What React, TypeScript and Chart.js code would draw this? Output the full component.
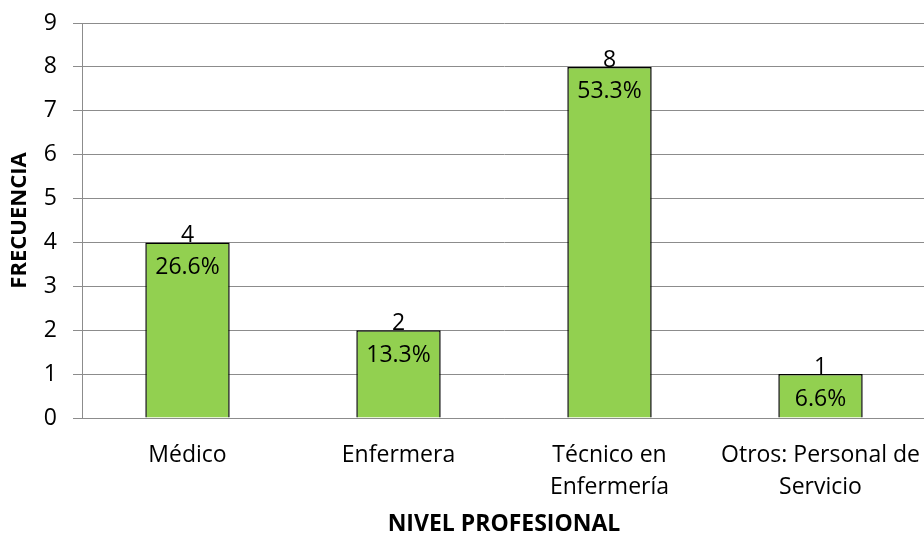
import React, { useEffect, useRef } from "react";
import { Chart, registerables } from "chart.js";

Chart.register(...registerables);

const categories: (string | string[])[] = [
  "Médico",
  "Enfermera",
  ["Técnico en", "Enfermería"],
  ["Otros: Personal de", "Servicio"],
];
const frequencies = [4, 2, 8, 1];
const percentLabels = ["26.6%", "13.3%", "53.3%", "6.6%"];
const yTicks = [0, 1, 2, 3, 4, 5, 6, 7, 8, 9];

const FONT = "'Open Sans', 'Noto Sans', sans-serif";
const GRID = "#8c8c8c";

const labelPlugin = {
  id: "barLabels",
  afterDatasetsDraw(chart: any) {
    const ctx = chart.ctx;
    const meta = chart.getDatasetMeta(0);
    ctx.save();
    ctx.fillStyle = "#000";
    ctx.textAlign = "center";
    ctx.font = `23px ${FONT}`;
    meta.data.forEach((bar: any, i: number) => {
      ctx.textBaseline = "alphabetic";
      ctx.fillText(String(frequencies[i]), bar.x, bar.y);
      ctx.textBaseline = "middle";
      ctx.fillText(percentLabels[i], bar.x, bar.y + 25);
    });
    ctx.restore();
  },
};

export default function App() {
  const ref = useRef<HTMLCanvasElement>(null);
  useEffect(() => {
    if (!ref.current) return;
    const chart = new Chart(ref.current, {
      type: "bar",
      data: {
        labels: categories,
        datasets: [
          {
            data: frequencies,
            backgroundColor: "#92D050",
            borderColor: "#000000",
            borderWidth: 1.5,
            categoryPercentage: 1,
            barPercentage: 0.4,
          },
        ],
      },
      plugins: [labelPlugin],
      options: {
        responsive: false,
        animation: false,
        layout: { padding: { top: 23, left: 0, right: 0, bottom: 0 } },
        plugins: {
          legend: { display: false },
          tooltip: { enabled: false },
        },
        scales: {
          x: {
            grid: { display: false },
            border: { display: true, color: GRID, width: 1 },
            ticks: {
              color: "#000",
              font: { family: FONT, size: 23, lineHeight: 1.4 },
              padding: 13,
              maxRotation: 0,
              autoSkip: false,
            },
            title: {
              display: true,
              text: "NIVEL PROFESIONAL",
              color: "#000",
              font: { family: FONT, size: 23, weight: "bold", lineHeight: 1 },
              padding: { top: 0, bottom: 0 },
            },
            afterFit(scale: any) {
              scale.height = 118;
              scale.paddingLeft = 0;
              scale.paddingRight = 0;
            },
          },
          y: {
            min: 0,
            max: 9,
            ticks: {
              stepSize: 1,
              color: "#000",
              font: { family: FONT, size: 23 },
              padding: 16,
              callback: (v: any) => (yTicks.includes(Number(v)) ? String(v) : ""),
            },
            grid: { color: GRID, lineWidth: 1, drawTicks: true, tickLength: 9 },
            border: { display: true, color: GRID, width: 1 },
            title: {
              display: true,
              text: "FRECUENCIA",
              color: "#000",
              font: { family: FONT, size: 22, weight: "bold", lineHeight: 1.2 },
              padding: { top: 7, bottom: 0 },
            },
            afterFit(scale: any) {
              scale.width = 82;
              scale.paddingTop = 0;
              scale.paddingBottom = 0;
            },
          },
        },
      },
    });
    return () => chart.destroy();
  }, []);
  return (
    <div style={{ position: "fixed", left: 0, top: 0, width: 924, height: 536, overflow: "hidden", background: "#fff" }}>
      <canvas ref={ref} width={926} height={536} style={{ display: "block", width: 926, height: 536 }} />
    </div>
  );
}
